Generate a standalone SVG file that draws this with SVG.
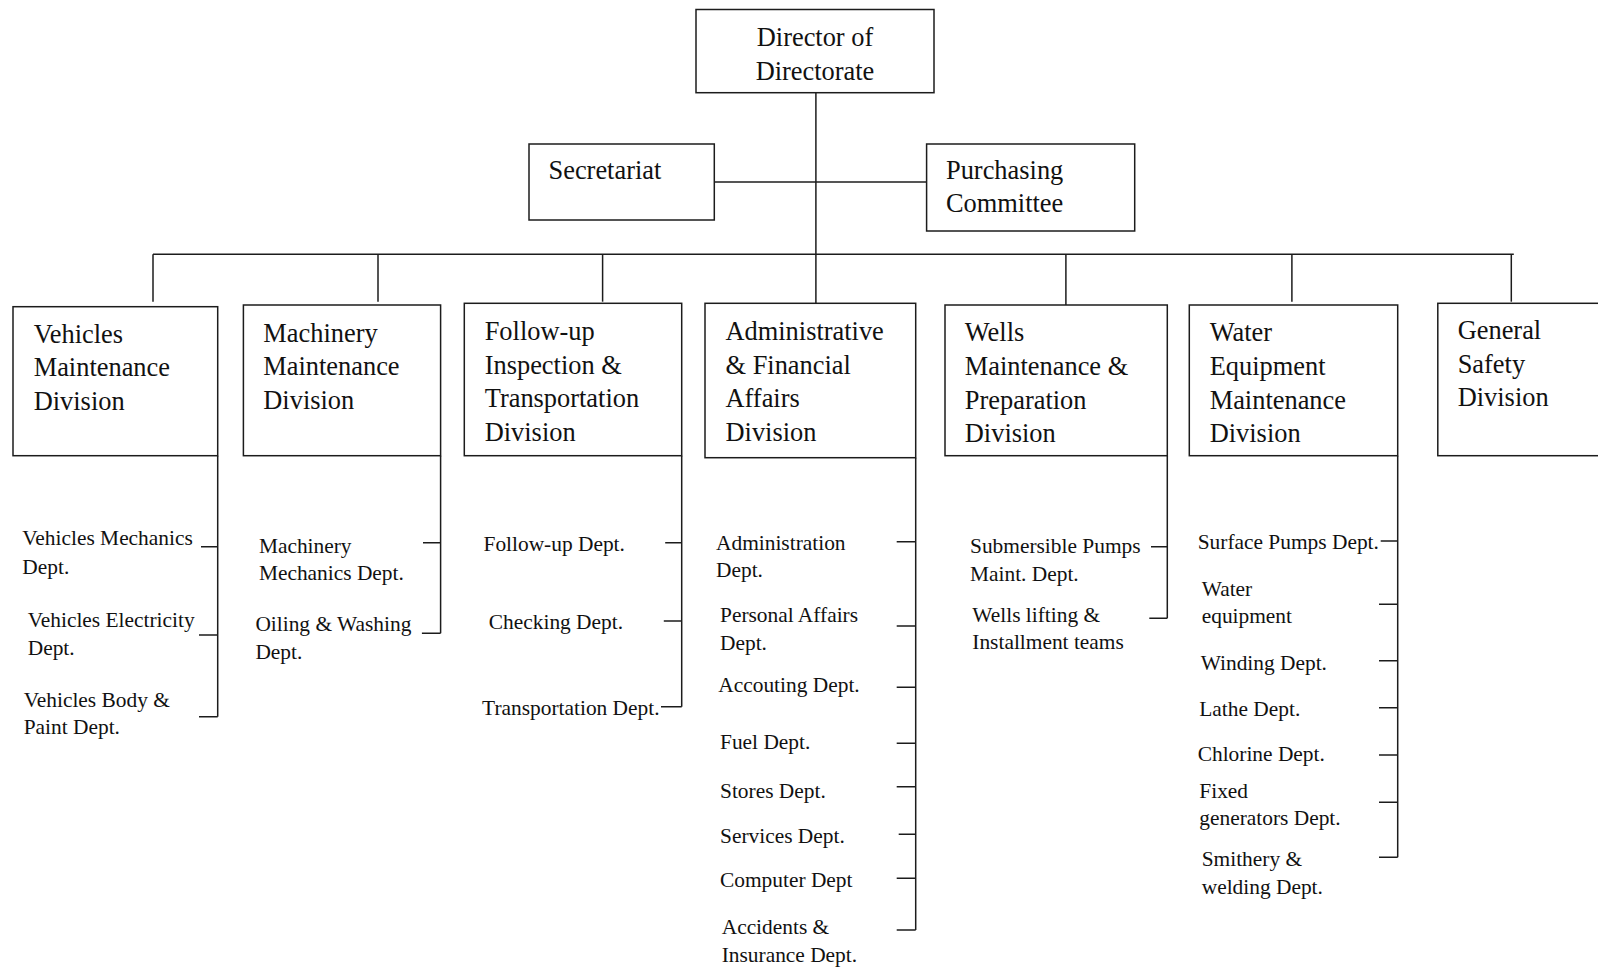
<svg xmlns="http://www.w3.org/2000/svg" width="1598" height="968" viewBox="0 0 1598 968">
  <style>
    .box { fill: #ffffff; stroke: #1c1c1c; stroke-width: 1.5; }
    .ln { fill: none; stroke: #1c1c1c; stroke-width: 1.5; }
    .t { font-family: "Liberation Serif", "Times New Roman", serif; font-size: 26.4px; fill: #111111; }
    .s { font-family: "Liberation Serif", "Times New Roman", serif; font-size: 21.4px; fill: #111111; }
    .mid { text-anchor: middle; }
  </style>
  <rect width="1598" height="968" fill="#ffffff"/>

  <!-- connectors -->
  <g id="connectors" class="ln">
    <!-- trunk from the director down to the admin division -->
    <line x1="815.9" y1="92.7" x2="815.9" y2="303.3"/>
    <!-- staff units -->
    <line x1="714.3" y1="182" x2="926.6" y2="182"/>
    <!-- division bus -->
    <line x1="153" y1="254.3" x2="1513.8" y2="254.3"/>
    <line x1="153" y1="254.3" x2="153" y2="301.7"/>
    <line x1="378" y1="254.3" x2="378" y2="301.7"/>
    <line x1="602.6" y1="254.3" x2="602.6" y2="301.7"/>
    <line x1="1065.9" y1="254.3" x2="1065.9" y2="305"/>
    <line x1="1291.9" y1="254.3" x2="1291.9" y2="301.7"/>
    <line x1="1511.3" y1="254.3" x2="1511.3" y2="301.7"/>

    <!-- vehicles departments -->
    <path d="M217.7 455.7 V716.7 M201 546.7 H217.7 M199 635 H217.7 M199 716.7 H217.7"/>
    <!-- machinery departments -->
    <path d="M440.6 455.7 V633.3 M423 542.7 H440.6 M421.9 633.3 H440.6"/>
    <!-- follow-up departments -->
    <path d="M681.7 455.7 V706.7 M665.2 542.7 H681.7 M663.8 621 H681.7 M661 706.7 H681.7"/>
    <!-- administrative departments -->
    <path d="M915.7 457.7 V930 M896.7 541.7 H915.7 M896.7 626 H915.7 M896.7 687.3 H915.7 M896.7 743.3 H915.7 M896.7 786.7 H915.7 M898.7 834.3 H915.7 M896.7 878.3 H915.7 M896.7 930 H915.7"/>
    <!-- wells departments -->
    <path d="M1167.3 455.7 V618.3 M1151 546.7 H1167.3 M1149.3 618.3 H1167.3"/>
    <!-- water equipment departments -->
    <path d="M1397.7 455.7 V857.3 M1380.7 541 H1397.7 M1379 604.3 H1397.7 M1379 660.7 H1397.7 M1379 707.7 H1397.7 M1379 755 H1397.7 M1379 802.3 H1397.7 M1379 857.3 H1397.7"/>
  </g>

  <!-- top level -->
  <g id="director">
    <rect class="box" x="696" y="9.5" width="238" height="83.2"/>
    <text class="t mid" x="815" y="46">Director of</text>
    <text class="t mid" x="815" y="79.5">Directorate</text>
  </g>
  <g id="secretariat">
    <rect class="box" x="529" y="144" width="185.3" height="76"/>
    <text class="t" x="548.5" y="179">Secretariat</text>
  </g>
  <g id="purchasing">
    <rect class="box" x="926.6" y="144" width="208.1" height="87"/>
    <text class="t" x="946" y="179">Purchasing</text>
    <text class="t" x="946" y="212.3">Committee</text>
  </g>

  <!-- divisions -->
  <g id="vehicles-division">
    <rect class="box" x="13" y="306.7" width="204.7" height="149"/>
    <text class="t" x="33.7" y="342.7">Vehicles</text>
    <text class="t" x="33.7" y="376.4">Maintenance</text>
    <text class="t" x="33.7" y="410">Division</text>
  </g>
  <g id="machinery-division">
    <rect class="box" x="243.4" y="305" width="197.2" height="150.7"/>
    <text class="t" x="263.3" y="341.7">Machinery</text>
    <text class="t" x="263.3" y="375.4">Maintenance</text>
    <text class="t" x="263.3" y="409">Division</text>
  </g>
  <g id="followup-division">
    <rect class="box" x="464.3" y="303.3" width="217.4" height="152.4"/>
    <text class="t" x="484.7" y="340">Follow-up</text>
    <text class="t" x="484.7" y="373.7">Inspection &amp;</text>
    <text class="t" x="484.7" y="407.4">Transportation</text>
    <text class="t" x="484.7" y="441">Division</text>
  </g>
  <g id="admin-division">
    <rect class="box" x="705" y="303.3" width="210.7" height="154.4"/>
    <text class="t" x="725.5" y="340">Administrative</text>
    <text class="t" x="725.5" y="373.7">&amp; Financial</text>
    <text class="t" x="725.5" y="407.4">Affairs</text>
    <text class="t" x="725.5" y="441">Division</text>
  </g>
  <g id="wells-division">
    <rect class="box" x="945" y="305" width="222.3" height="150.7"/>
    <text class="t" x="964.8" y="341.4">Wells</text>
    <text class="t" x="964.8" y="375">Maintenance &amp;</text>
    <text class="t" x="964.8" y="408.7">Preparation</text>
    <text class="t" x="964.8" y="442.3">Division</text>
  </g>
  <g id="water-division">
    <rect class="box" x="1189.3" y="305" width="208.4" height="150.7"/>
    <text class="t" x="1209.7" y="341.4">Water</text>
    <text class="t" x="1209.7" y="375">Equipment</text>
    <text class="t" x="1209.7" y="408.7">Maintenance</text>
    <text class="t" x="1209.7" y="442.3">Division</text>
  </g>
  <g id="safety-division">
    <rect class="box" x="1437.8" y="303.3" width="200" height="152.4"/>
    <text class="t" x="1457.7" y="339">General</text>
    <text class="t" x="1457.7" y="372.7">Safety</text>
    <text class="t" x="1457.7" y="406.4">Division</text>
  </g>

  <!-- departments -->
  <g id="vehicles-depts">
    <text class="s" x="22.3" y="545.3">Vehicles Mechanics</text>
    <text class="s" x="22.3" y="573.7">Dept.</text>
    <text class="s" x="27.7" y="627">Vehicles Electricity</text>
    <text class="s" x="27.7" y="655.3">Dept.</text>
    <text class="s" x="23.7" y="706.7">Vehicles Body &amp;</text>
    <text class="s" x="23.7" y="734.3">Paint Dept.</text>
  </g>
  <g id="machinery-depts">
    <text class="s" x="258.9" y="553.3">Machinery</text>
    <text class="s" x="258.9" y="580">Mechanics Dept.</text>
    <text class="s" x="255.4" y="631">Oiling &amp; Washing</text>
    <text class="s" x="255.4" y="659.3">Dept.</text>
  </g>
  <g id="followup-depts">
    <text class="s" x="483.5" y="551">Follow-up Dept.</text>
    <text class="s" x="488.8" y="629.3">Checking Dept.</text>
    <text class="s" x="482.1" y="715">Transportation Dept.</text>
  </g>
  <g id="admin-depts">
    <text class="s" x="716" y="550">Administration</text>
    <text class="s" x="716" y="577.3">Dept.</text>
    <text class="s" x="720" y="622.3">Personal Affairs</text>
    <text class="s" x="720" y="649.7">Dept.</text>
    <text class="s" x="718.3" y="691.7">Accouting Dept.</text>
    <text class="s" x="720" y="749.3">Fuel Dept.</text>
    <text class="s" x="720" y="798.3">Stores Dept.</text>
    <text class="s" x="720" y="843.3">Services Dept.</text>
    <text class="s" x="720" y="886.7">Computer Dept</text>
    <text class="s" x="721.7" y="933.7">Accidents &amp;</text>
    <text class="s" x="721.7" y="961.5">Insurance Dept.</text>
  </g>
  <g id="wells-depts">
    <text class="s" x="970" y="553.3">Submersible Pumps</text>
    <text class="s" x="970" y="581">Maint. Dept.</text>
    <text class="s" x="972.3" y="622.3">Wells lifting &amp;</text>
    <text class="s" x="972.3" y="649">Installment teams</text>
  </g>
  <g id="water-depts">
    <text class="s" x="1197.7" y="549.3">Surface Pumps Dept.</text>
    <text class="s" x="1201.7" y="596">Water</text>
    <text class="s" x="1201.7" y="623.3">equipment</text>
    <text class="s" x="1200.7" y="670.3">Winding Dept.</text>
    <text class="s" x="1199.3" y="716">Lathe Dept.</text>
    <text class="s" x="1197.7" y="761">Chlorine Dept.</text>
    <text class="s" x="1199.3" y="797.7">Fixed</text>
    <text class="s" x="1199.3" y="825.3">generators Dept.</text>
    <text class="s" x="1201.7" y="866">Smithery &amp;</text>
    <text class="s" x="1201.7" y="893.7">welding Dept.</text>
  </g>
</svg>
